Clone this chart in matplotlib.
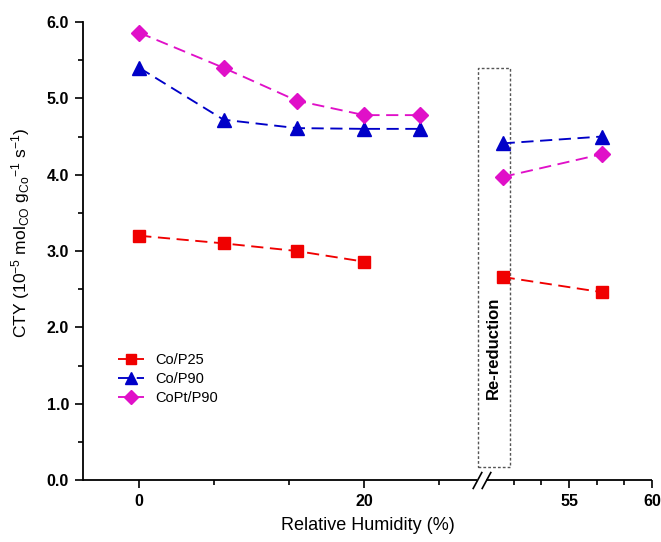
import numpy as np
import matplotlib
matplotlib.use("Agg")
import matplotlib.pyplot as plt
from matplotlib.path import Path
from matplotlib.transforms import blended_transform_factory

plt.rcParams['font.family'] = ['Liberation Sans', 'DejaVu Sans']
plt.rcParams['mathtext.fontset'] = 'custom'
plt.rcParams['mathtext.rm'] = 'Liberation Sans'
plt.rcParams['mathtext.it'] = 'Liberation Sans:italic'
plt.rcParams['mathtext.bf'] = 'Liberation Sans:bold'

# Relative humidity (%) before and after the re-reduction step
rh_before = [0, 7.5, 14, 20, 25]
rh_after = [51, 57]

# CTY, 10^-5 mol_CO g_Co^-1 s^-1
co_p25_before = [3.20, 3.10, 3.00, 2.86]
co_p25_after = [2.66, 2.46]
co_p90_before = [5.40, 4.72, 4.61, 4.60, 4.60]
co_p90_after = [4.41, 4.50]
copt_p90_before = [5.86, 5.40, 4.97, 4.78, 4.78]
copt_p90_after = [3.97, 4.27]

major_ticks = [0, 20, 55, 60]
major_labels = ['0', '20', '55', '60']
minor_ticks = [20 / 3, 40 / 3, 80 / 3, 155 / 3, 160 / 3, 170 / 3, 175 / 3]
y_ticks = [0, 1, 2, 3, 4, 5, 6]
y_labels = ['0.0', '1.0', '2.0', '3.0', '4.0', '5.0', '6.0']

# Broken x axis: [-5, 30] and [50, 60] on different linear scales,
# with the 30-50 interval squeezed into a narrow gap.
L_SLOPE, GAP_SLOPE, R_SLOPE = 11.25, 9.5 / 20, 16.6
P30 = 139 + L_SLOPE * 30
P50 = P30 + GAP_SLOPE * 20


def fwd(x):
    x = np.asarray(x, dtype=float)
    return np.where(x <= 30, 139 + L_SLOPE * x,
                    np.where(x < 50, P30 + GAP_SLOPE * (x - 30),
                             P50 + R_SLOPE * (x - 50)))


def inv(p):
    p = np.asarray(p, dtype=float)
    return np.where(p <= P30, (p - 139) / L_SLOPE,
                    np.where(p < P50, 30 + (p - P30) / GAP_SLOPE,
                             50 + (p - P50) / R_SLOPE))


fig = plt.figure(figsize=(6.61, 5.42), dpi=100)
W, H = 661, 542
ax = fig.add_axes([83 / W, (H - 480) / H, (652 - 83) / W, (480 - 22) / H])
ax.set_xscale('function', functions=(fwd, inv))
ax.set_xlim(-5, 60)
ax.set_ylim(0, 6)

red, blue, mag = '#F00000', '#0000C8', '#E010C8'
line_kw = dict(linestyle=(0, (6.5, 3.5)), linewidth=1.35)

series = [
    ('Co/P25', co_p25_before, co_p25_after, red, 's', 8),
    ('Co/P90', co_p90_before, co_p90_after, blue, '^', 9.5),
    ('CoPt/P90', copt_p90_before, copt_p90_after, mag, 'D', 8),
]
for name, yb, ya, c, m, ms in series:
    ax.plot(rh_before[:len(yb)], yb, color=c, marker=m, markersize=ms,
            label=name, clip_on=False, **line_kw)
    ax.plot(rh_after, ya, color=c, marker=m, markersize=ms,
            clip_on=False, **line_kw)

# Re-reduction window
rx0, rx1, ry0, ry1 = 33.2, 51.45, 0.17, 5.40
ax.plot([rx0, rx1, rx1, rx0, rx0], [ry0, ry0, ry1, ry1, ry0],
        color='#555555', linewidth=1.0, linestyle=(0, (2, 1.5)), zorder=1)
ax.text(50.42, 1.73, 'Re-reduction', rotation=90, ha='center', va='center',
        fontsize=12, fontweight='bold')

# Axes styling
for s in ['top', 'right', 'bottom']:
    ax.spines[s].set_visible(False)
ax.spines['left'].set_linewidth(1.3)

tr = blended_transform_factory(ax.transData, ax.transAxes)
ax.plot([-5, 30], [0, 0], color='k', linewidth=1.3, transform=tr,
        clip_on=False, solid_capstyle='butt')
ax.plot([50, 60], [0, 0], color='k', linewidth=1.3, transform=tr,
        clip_on=False, solid_capstyle='butt')
slash = Path([(-0.27, -0.5), (0.27, 0.5)], [Path.MOVETO, Path.LINETO])
ax.plot([30, 50], [0, 0], linestyle='none', marker=slash, markersize=12.5,
        markeredgewidth=1.2, color='k', transform=tr, clip_on=False)

ax.set_xticks(major_ticks)
ax.set_xticklabels(major_labels)
ax.set_xticks(minor_ticks, minor=True)
ax.set_yticks(y_ticks)
ax.set_yticklabels(y_labels)
ax.set_yticks(np.arange(0.5, 6, 1.0), minor=True)
ax.tick_params(which='major', direction='out', length=6, width=1.2,
               labelsize=11.5, pad=4)
ax.tick_params(which='minor', direction='out', length=3.5, width=1.2)
for lab in ax.get_xticklabels() + ax.get_yticklabels():
    lab.set_fontweight('bold')

ax.set_xlabel('Relative Humidity (%)', fontsize=13, labelpad=6)
ax.set_ylabel(r'CTY (10$^{-5}$ mol$_{\mathrm{CO}}$ g$_{\mathrm{Co}}$$^{-1}$ s$^{-1}$)',
              fontsize=12.5)
ax.yaxis.set_label_coords(-0.09, 0.54)

ax.legend(loc='center left', bbox_to_anchor=(0.0615, 0.2205), frameon=False,
          fontsize=10.5, borderpad=0, borderaxespad=0, handlelength=1.8,
          handletextpad=0.75, labelspacing=0.35, markerscale=0.85)

fig.savefig('out.png', dpi=100)
